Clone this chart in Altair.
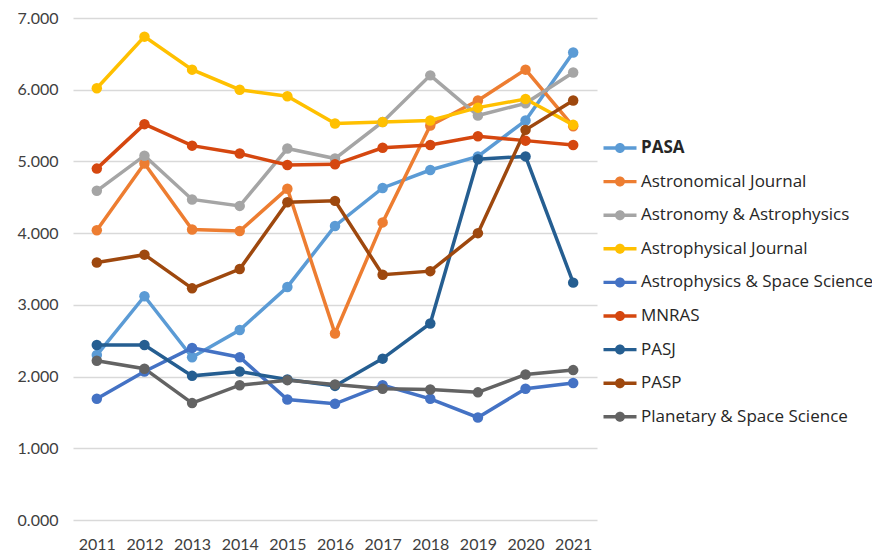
import altair as alt
import pandas as pd

years = [2011, 2012, 2013, 2014, 2015, 2016, 2017, 2018, 2019, 2020, 2021]

journals = [
    "PASA",
    "Astronomical Journal",
    "Astronomy & Astrophysics",
    "Astrophysical Journal",
    "Astrophysics & Space Science",
    "MNRAS",
    "PASJ",
    "PASP",
    "Planetary & Space Science",
]

pasa = [2.30, 3.12, 2.27, 2.65, 3.25, 4.10, 4.63, 4.88, 5.07, 5.57, 6.52]
astronomical_journal = [4.04, 4.97, 4.05, 4.03, 4.62, 2.60, 4.15, 5.50, 5.85, 6.28, 5.49]
astronomy_astrophysics = [4.59, 5.08, 4.47, 4.38, 5.18, 5.04, 5.55, 6.20, 5.64, 5.81, 6.24]
astrophysical_journal = [6.02, 6.74, 6.28, 6.00, 5.91, 5.53, 5.55, 5.57, 5.75, 5.87, 5.51]
astrophysics_space_science = [1.69, 2.07, 2.40, 2.27, 1.68, 1.62, 1.88, 1.69, 1.43, 1.83, 1.91]
mnras = [4.90, 5.52, 5.22, 5.11, 4.95, 4.96, 5.19, 5.23, 5.35, 5.29, 5.23]
pasj = [2.44, 2.44, 2.01, 2.07, 1.96, 1.87, 2.25, 2.74, 5.03, 5.07, 3.31]
pasp = [3.59, 3.70, 3.23, 3.50, 4.43, 4.45, 3.42, 3.47, 4.00, 5.44, 5.85]
planetary_space_science = [2.22, 2.11, 1.63, 1.88, 1.95, 1.89, 1.83, 1.82, 1.78, 2.03, 2.09]

series = [pasa, astronomical_journal, astronomy_astrophysics, astrophysical_journal,
          astrophysics_space_science, mnras, pasj, pasp, planetary_space_science]

colors = ["#5B9BD5", "#ED7D31", "#A5A5A5", "#FFC000", "#4472C4",
          "#D5470F", "#255E91", "#9E480E", "#636363"]

y_ticks = [0, 1, 2, 3, 4, 5, 6, 7]

rows = []
for k, (name, vals) in enumerate(zip(journals, series)):
    for yr, v in zip(years, vals):
        rows.append({"journal": name, "year": str(yr), "value": v, "order": k})
df = pd.DataFrame(rows)

FONT = "Lato"
LEGEND_FONT = "Open Sans"
LABEL_COLOR = "#404040"

legend = alt.Legend(
    title=None,
    orient="none",
    legendX=537,
    legendY=120,
    padding=0,
    symbolType="M-1.65,-0.17H1.65V0.17H-1.65Z M0.5,0A0.5,0.5 0 1,1 -0.5,0A0.5,0.5 0 1,1 0.5,0Z",
    symbolSize=400,
    symbolStrokeWidth=0,
    symbolOpacity=1,
    labelOffset=11,
    rowPadding=15.6,
    labelFont=LEGEND_FONT,
    labelFontSize=17,
    labelColor="#262626",
    labelLimit=400,
    labelFontWeight={"expr": "datum.label == 'PASA' ? 'bold' : 'normal'"},
)

color = alt.Color(
    "journal:N",
    scale=alt.Scale(domain=journals, range=colors),
    legend=legend,
)

x = alt.X(
    "year:O",
    sort=[str(y) for y in years],
    scale=alt.Scale(type="point", padding=0.5),
    axis=alt.Axis(
        title=None,
        labelAngle=0,
        domain=False,
        ticks=False,
        labelPadding=16,
        labelFont=FONT,
        labelFontSize=16,
        labelColor=LABEL_COLOR,
        grid=False,
    ),
)

y = alt.Y(
    "value:Q",
    scale=alt.Scale(domain=[0, 7], nice=False),
    axis=alt.Axis(
        title=None,
        values=y_ticks,
        format=".3f",
        domain=False,
        ticks=False,
        labelPadding=15,
        labelFont=FONT,
        labelFontSize=16,
        labelColor=LABEL_COLOR,
        grid=True,
        gridColor="#D9D9D9",
        gridWidth=1.5,
    ),
)

lines = alt.Chart(df).mark_line(strokeWidth=3.5).encode(
    x=x, y=y, color=color,
    detail="journal:N",
    order="year:O",
)

points = alt.Chart(df).mark_point(filled=True, size=110, opacity=1).encode(
    x=x, y=y, color=color,
    order="order:Q",
)

chart = alt.layer(lines, points).properties(
    width=524,
    height=502,
    padding={"left": 65, "top": 10, "right": 275, "bottom": 40},
    autosize=alt.AutoSizeParams(type="none"),
    background="white",
).configure_view(stroke=None)

chart.save("out.html", embed_options={"renderer": "svg", "actions": False})
